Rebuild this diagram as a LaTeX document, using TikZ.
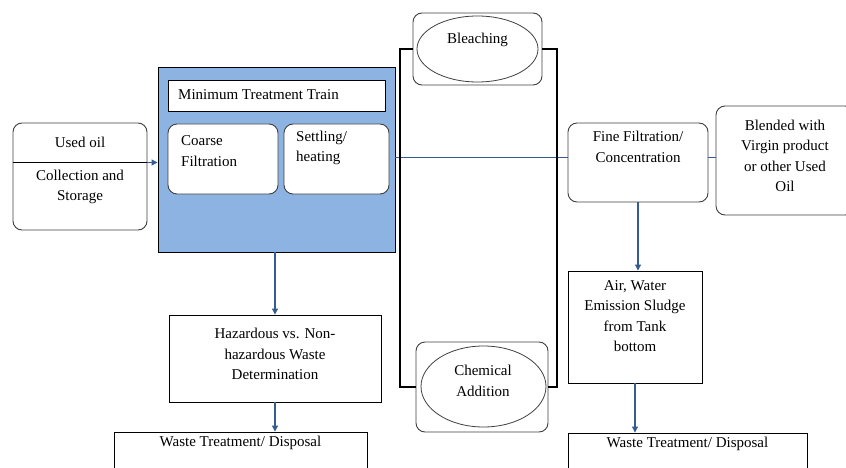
\documentclass[tikz,border=0pt]{standalone}
\usepackage{fontspec}
\setmainfont{Liberation Serif}
\usetikzlibrary{arrows.meta,shapes.geometric}
\definecolor{trainblue}{RGB}{141,179,226}
\definecolor{linkblue}{RGB}{52,92,145}
\tikzset{
  rbox/.style={draw=black!75, line width=0.9pt, rounded corners=9pt, fill=white, inner sep=0pt},
  sbox/.style={draw=black, line width=0.9pt, fill=white, inner sep=0pt},
  oval/.style={draw=black!75, line width=0.8pt, ellipse, inner sep=0pt},
  txt/.style={inner sep=0pt, align=center, font=\rmfamily\fontsize{15}{20.5}\selectfont},
  link/.style={draw=linkblue, line width=1.1pt, -{Triangle[length=6pt,width=6pt]}},
  thinlink/.style={draw=linkblue, line width=0.8pt},
  bracket/.style={draw=black, line width=1.6pt}
}
\begin{document}
\begin{tikzpicture}[x=1pt,y=-1pt]
      \useasboundingbox (0,0) rectangle (846,468);
      \clip (0,0) rectangle (846,468);
      % left column
      \draw
        (80,176.5) node[rbox, minimum width=134, minimum height=107] (oil){}
        (276.5,159.5) node[sbox, fill=trainblue, minimum width=237, minimum height=185] (train){}
        (276.5,95.5) node[sbox, minimum width=217, minimum height=31] (mtt){}
        (223,159) node[rbox, minimum width=110, minimum height=70] (coarse){}
        (336.5,159) node[rbox, minimum width=105, minimum height=70] (settle){}
        (275,358.5) node[sbox, minimum width=212, minimum height=87] (hazard){}
        (240.5,458) node[sbox, minimum width=253, minimum height=52] (waste1){};
      % middle column
      \draw
        (477.5,49) node[rbox, minimum width=129, minimum height=72] (bleach){}
        (477.5,49) node[oval, minimum width=121, minimum height=66] (bleachov){}
        (482,387) node[rbox, minimum width=132, minimum height=90] (chem){}
        (483.5,386.5) node[oval, minimum width=125, minimum height=81] (chemov){};
      % right column
      \draw
        (638,162.5) node[rbox, minimum width=140, minimum height=79] (fine){}
        (785,160.5) node[rbox, minimum width=138, minimum height=109] (blend){}
        (635,327) node[sbox, minimum width=134, minimum height=112] (air){}
        (687.5,458) node[sbox, minimum width=239, minimum height=50] (waste2){};
      % texts
      \draw
        (80,142) node[txt] (oilt){Used oil}
        (80,187) node[txt] (oilb){Collection and\\Storage}
        (178,95) node[txt, anchor=west] (mttt){Minimum Treatment Train}
        (181,151) node[txt, anchor=west, align=left] (coarset){Coarse\\Filtration}
        (296,148) node[txt, anchor=west, align=left] (settlet){Settling/\\heating}
        (477.5,40) node[txt] (bleacht){Bleaching}
        (483,381) node[txt] (chemt){Chemical\\Addition}
        (638,147) node[txt] (finet){Fine Filtration/\\Concentration}
        (785,156) node[txt] (blendt){Blended with\\Virgin product\\or other Used\\Oil}
        (275,354) node[txt] (hazardt){Hazardous vs. Non-\\hazardous Waste\\Determination}
        (635,316) node[txt] (airt){Air, Water\\Emission Sludge\\from Tank\\bottom}
        (240.5,443) node[txt] (waste1t){Waste Treatment/ Disposal}
        (687.5,444) node[txt] (waste2t){Waste Treatment/ Disposal};
      % connectors
      \coordinate (div) at (80,162.5);
      \coordinate (feed) at (0,157);
      \draw[line width=1.3pt] (oil.west |- div) -- (oil.east |- div);
      \draw[link] (oil.east |- div) -- (train.west |- div);
      \draw[link] (train.south -| hazard.north) -- (hazard.north);
      \draw[link] (hazard.south) -- (waste1.north -| hazard.south);
      \draw[thinlink] (train.east |- feed) -- (fine.west |- feed);
      \draw[thinlink] (fine.east |- feed) -- (blend.west |- feed);
      \draw[link] (fine.south) -- (air.north -| fine.south);
      \draw[link] (air.south) -- (waste2.north -| air.south);
      \draw[bracket] (bleach.west) -| (400,387) -- (chem.west);
      \draw[bracket] (bleach.east) -| (557,387) -- (chem.east);
    \end{tikzpicture}
\end{document}
